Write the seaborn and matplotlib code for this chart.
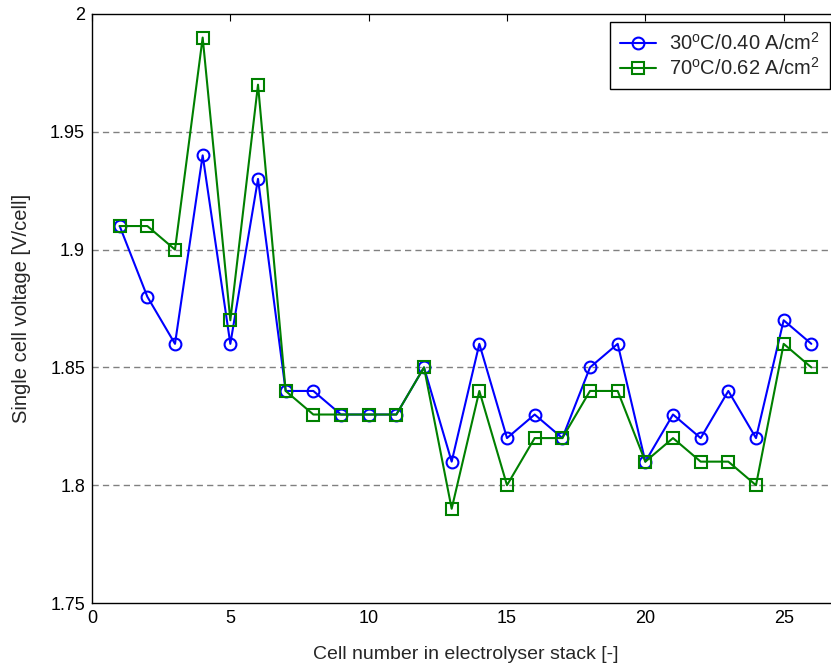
import matplotlib
matplotlib.use("Agg")
import matplotlib.pyplot as plt
from matplotlib.lines import Line2D
import seaborn as sns
import pandas as pd

cells = list(range(1, 27))
v_30c = [1.91, 1.88, 1.86, 1.94, 1.86, 1.93, 1.84, 1.84, 1.83, 1.83, 1.83, 1.85, 1.81,
         1.86, 1.82, 1.83, 1.82, 1.85, 1.86, 1.81, 1.83, 1.82, 1.84, 1.82, 1.87, 1.86]
v_70c = [1.91, 1.91, 1.90, 1.99, 1.87, 1.97, 1.84, 1.83, 1.83, 1.83, 1.83, 1.85, 1.79,
         1.84, 1.80, 1.82, 1.82, 1.84, 1.84, 1.81, 1.82, 1.81, 1.81, 1.80, 1.86, 1.85]
series_labels = ["30$^{\\mathrm{o}}$C/0.40 A/cm$^{2}$", "70$^{\\mathrm{o}}$C/0.62 A/cm$^{2}$"]
series_colors = ["#0000ff", "#008000"]
x_ticks = [0, 5, 10, 15, 20, 25]
y_ticks = [1.75, 1.8, 1.85, 1.9, 1.95, 2.0]
y_ticklabels = ["1.75", "1.8", "1.85", "1.9", "1.95", "2"]

sns.set_style("white")
plt.rcParams["font.family"] = ["Liberation Sans", "DejaVu Sans"]
plt.rcParams["mathtext.fontset"] = "custom"
plt.rcParams["mathtext.rm"] = "Liberation Sans"
plt.rcParams["mathtext.it"] = "Liberation Sans"

df = pd.DataFrame({
    "cell": cells * 2,
    "voltage": v_30c + v_70c,
    "series": [series_labels[0]] * len(cells) + [series_labels[1]] * len(cells),
})

W, H = 831, 668
fig = plt.figure(figsize=(W / 100, H / 100), dpi=100)
# the plot area runs slightly past the right edge of the canvas
ax = fig.add_axes([92 / W, (H - 603) / H, 747 / W, 589 / H])

MS, MEW, LW = 8.5, 1.5, 1.5
sns.lineplot(data=df, x="cell", y="voltage", hue="series", style="series",
             palette=series_colors, markers=["o", "s"], dashes=False,
             markersize=MS, markeredgewidth=MEW, linewidth=LW, ax=ax, legend=False)
# open markers keep their series colour
for line, c in zip(ax.get_lines(), series_colors):
    line.set_markeredgecolor(c)
    line.set_markerfacecolor("none")

ax.set_xlim(0, 27)
ax.set_ylim(1.75, 2.0)
ax.set_xticks(x_ticks)
ax.set_yticks(y_ticks)
ax.set_yticklabels(y_ticklabels)
ax.tick_params(direction="in", length=5, width=0.8, labelsize=13, colors="black",
               top=True, right=True, pad=5)
for s in ax.spines.values():
    s.set_color("black")
    s.set_linewidth(1.0)
for yv in y_ticks[1:-1]:
    ax.axhline(yv, color="#808080", linestyle=(0, (4.5, 3)), linewidth=1.0, zorder=0)

ax.set_xlabel("Cell number in electrolyser stack [-]", fontsize=14, labelpad=14)
ax.set_ylabel("Single cell voltage [V/cell]", fontsize=14.5, labelpad=14)

handles = [
    Line2D([], [], color=c, marker=m, markerfacecolor="none", markersize=MS,
           markeredgewidth=MEW, linewidth=LW)
    for c, m in zip(series_colors, ["o", "s"])
]
leg = fig.legend(handles, series_labels, loc="upper right",
                 bbox_to_anchor=(830 / W, 1 - 22 / H), fontsize=14.5, frameon=True,
                 fancybox=False, edgecolor="black", framealpha=1, handlelength=1.8,
                 borderpad=0.5, labelspacing=0.15, handletextpad=0.65, borderaxespad=0)
leg.get_frame().set_linewidth(1.0)

fig.savefig("out.png", dpi=100)
